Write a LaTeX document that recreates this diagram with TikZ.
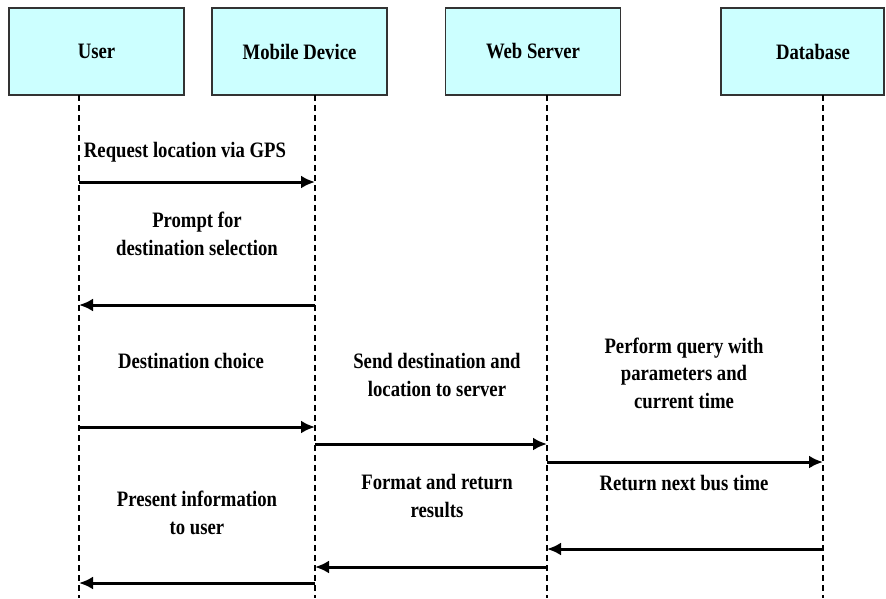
\documentclass[tikz,border=0pt]{standalone}
\usepackage{fontspec}
\setmainfont{Liberation Serif}[FakeStretch=0.85]
\usepackage{xcolor}
\usepackage{tikz}
\usetikzlibrary{positioning}
\usetikzlibrary{arrows.meta}

\definecolor{boxcyan}{HTML}{CCFFFF}

\begin{document}
\begin{tikzpicture}[x=1pt, y=-1pt,
actor/.style={rectangle, draw=black!80, fill=boxcyan, line width=1.3pt, minimum width=175pt, minimum height=87pt, font=\fontsize{22}{24}\selectfont\bfseries},
lifeline/.style={black, line width=1.6pt, dash pattern=on 6pt off 4pt},
msg/.style={black, line width=3pt, -{Latex[length=14pt, width=13pt]}},
label/.style={align=center, font=\fontsize{22}{27.5}\selectfont\bfseries},
]
\useasboundingbox (0,0) rectangle (886,598);
%Nodes
\node[actor] (user)   at (96.5,51.5)  {User};
\node[actor] (mobile) at (299.5,51.5) {Mobile Device};
\node[actor] (server) at (533,51.5)   {Web Server};
\node[actor, minimum width=163pt] (db) at (802.5,51.5) {\hspace*{21pt}Database};
% lifelines
\coordinate (u) at (79,95);   \coordinate (ue) at (79,598);
\coordinate (m) at (315,95);  \coordinate (me) at (315,598);
\coordinate (s) at (547,95);  \coordinate (se) at (547,598);
\coordinate (d) at (823,95);  \coordinate (de) at (823,598);
\draw[lifeline] (u) -- (ue);
\draw[lifeline] (m) -- (me);
\draw[lifeline] (s) -- (se);
\draw[lifeline] (d) -- (de);
% messages
\node[label] (gps)     at (185,152) {Request location via GPS};
\node[label] (prompt)  at (197,234) {Prompt for\\destination selection};
\node[label] (choice)  at (191,361) {Destination choice};
\node[label] (send)    at (437,375) {Send destination and\\location to server};
\node[label] (query)   at (684,373) {Perform query with\\parameters and\\current time};
\node[label] (bus)     at (684,483) {Return next bus time};
\node[label] (format)  at (437,496) {Format and return\\results};
\node[label] (present) at (197,513) {Present information\\to user};
%Lines
\draw[msg] (u |- 0,182) -- (m |- 0,182);
\draw[msg] (m |- 0,305) -- (u |- 0,305);
\draw[msg] (u |- 0,427) -- (m |- 0,427);
\draw[msg] (m |- 0,444) -- (s |- 0,444);
\draw[msg] (s |- 0,462) -- (d |- 0,462);
\draw[msg] (d |- 0,549) -- (s |- 0,549);
\draw[msg] (s |- 0,567) -- (m |- 0,567);
\draw[msg] (m |- 0,583) -- (u |- 0,583);
\end{tikzpicture}
\end{document}
